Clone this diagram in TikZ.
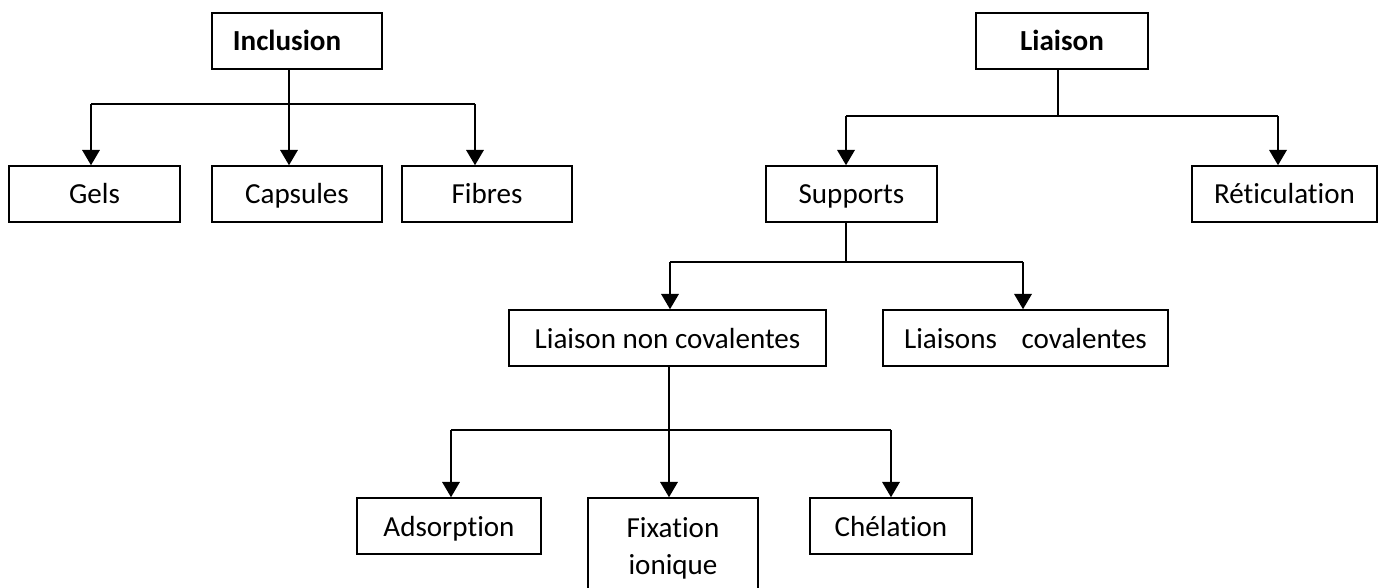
\documentclass[tikz,border=0pt]{standalone}
\usepackage{fontspec}
\setmainfont{Carlito}[Ligatures=NoCommon]
\usetikzlibrary{arrows.meta}
\tikzset{
  box/.style={draw=black, line width=1.1pt, rectangle, inner sep=0pt, align=center,
    font=\fontsize{21.8}{27.75}\selectfont},
  one/.style={text height=17pt, text depth=2pt},
  arr/.style={line width=1.8pt, -{Triangle[length=11.5pt,width=13pt]}},
  bus/.style={line width=1.8pt},
  thinline/.style={line width=0.9pt},
}
\begin{document}
\begin{tikzpicture}[x=0.75pt,y=-0.75pt]
\useasboundingbox (0,0) rectangle (1381,588);
\clip (0,0) rectangle (1381,588);
% Inclusion branch
\node[box, one, minimum width=127.5pt, minimum height=42pt] (inc) at (297,41) {\textbf{Inclusion}\hspace*{15pt}};
\node[box, one, minimum width=128.25pt, minimum height=42pt] (gels) at (94.5,194) {Gels};
\node[box, one, minimum width=127.5pt, minimum height=42pt] (caps) at (297,194) {Capsules};
\node[box, one, minimum width=127.5pt, minimum height=42pt] (fib) at (487,194) {Fibres};
% Liaison branch
\node[box, one, minimum width=129pt, minimum height=42pt] (lia) at (1062,41) {\textbf{Liaison}};
\node[box, one, minimum width=128.25pt, minimum height=42pt] (sup) at (851.5,194) {Supports};
\node[box, one, minimum width=138.75pt, minimum height=42pt] (ret) at (1284.5,194) {Réticulation};
\node[box, one, minimum width=237.75pt, minimum height=42pt] (lnc) at (667.5,338) {Liaison non covalentes};
\node[box, one, minimum width=213.75pt, minimum height=42pt] (lc) at (1025.5,338) {Liaisons\hspace*{18.5pt}covalentes};
\node[box, one, minimum width=138pt, minimum height=42pt] (ads) at (449,526) {Adsorption};
\node[box, minimum width=127.5pt, minimum height=75pt] (fix) at (673,548) {Fixation\\ionique};
\node[box, one, minimum width=121.5pt, minimum height=42pt] (che) at (891,526) {Chélation};
% bus coordinates
\coordinate (b1l) at (91,104);
\coordinate (b1m) at (289,104);
\coordinate (b1r) at (475,104);
\coordinate (b2l) at (846,116);
\coordinate (b2m) at (1058,116);
\coordinate (b2r) at (1278,116);
\coordinate (b3l) at (670,262);
\coordinate (b3m) at (846,262);
\coordinate (b3r) at (1023,262);
\coordinate (b4l) at (451,430);
\coordinate (b4m) at (669,430);
\coordinate (b4r) at (891,430);
% Inclusion connectors
\draw[arr] (inc.south -| b1m) -- (caps.north -| b1m);
\draw[bus] (b1l) -- (b1r);
\draw[arr] (b1l) -- (gels.north -| b1l);
\draw[arr] (b1r) -- (fib.north -| b1r);
% Liaison connectors
\draw[thinline] (lia.south -| b2m) -- (b2m);
\draw[bus] (b2l) -- (b2r);
\draw[arr] (b2l) -- (sup.north -| b2l);
\draw[arr] (b2r) -- (ret.north -| b2r);
% Supports connectors
\draw[thinline] (sup.south -| b3m) -- (b3m);
\draw[bus] (b3l) -- (b3r);
\draw[arr] (b3l) -- (lnc.north -| b3l);
\draw[arr] (b3r) -- (lc.north -| b3r);
% Liaison non covalentes connectors
\draw[arr] (lnc.south -| b4m) -- (fix.north -| b4m);
\draw[bus] (b4l) -- (b4r);
\draw[arr] (b4l) -- (ads.north -| b4l);
\draw[arr] (b4r) -- (che.north -| b4r);
\end{tikzpicture}
\end{document}
